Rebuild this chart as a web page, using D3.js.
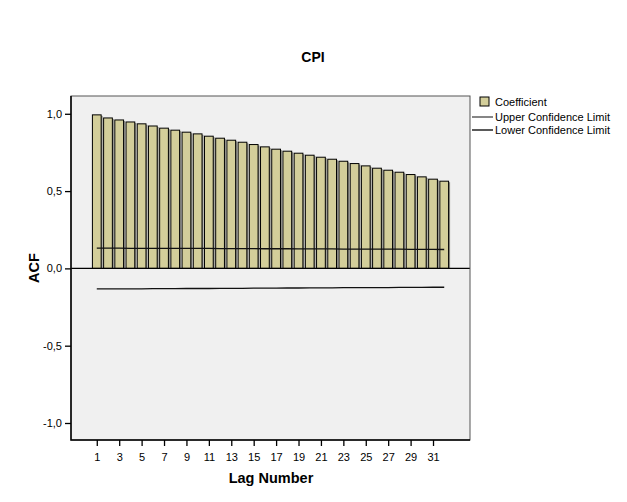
<!DOCTYPE html>
<html>
<head>
<meta charset="utf-8">
<script src="https://cdn.jsdelivr.net/npm/d3@7"></script>
<style>
  body { margin: 0; background: #fff; }
  svg { display: block; font-family: "Liberation Sans", Arial, sans-serif; }
</style>
</head>
<body>
<svg id="chart" width="627" height="502"></svg>
<script>
// ACF values for CPI, lags 1..32
var lags = d3.range(1, 33);
var coef = [0.993, 0.973, 0.960, 0.947, 0.935, 0.921, 0.907, 0.894, 0.881, 0.870,
            0.855, 0.842, 0.829, 0.816, 0.801, 0.786, 0.771, 0.758, 0.745, 0.732,
            0.719, 0.706, 0.693, 0.678, 0.663, 0.648, 0.635, 0.622, 0.607, 0.592,
            0.577, 0.564];
var upper = [0.131, 0.131, 0.131, 0.130, 0.130, 0.130, 0.130, 0.129, 0.129, 0.129,
             0.129, 0.128, 0.128, 0.128, 0.128, 0.127, 0.127, 0.127, 0.126, 0.126,
             0.126, 0.126, 0.125, 0.125, 0.125, 0.124, 0.124, 0.124, 0.123, 0.123,
             0.123, 0.122];
var lower = [-0.133, -0.133, -0.132, -0.132, -0.132, -0.131, -0.131, -0.131, -0.130, -0.130,
             -0.130, -0.129, -0.129, -0.129, -0.128, -0.128, -0.128, -0.127, -0.127, -0.126,
             -0.126, -0.126, -0.125, -0.125, -0.125, -0.124, -0.124, -0.123, -0.123, -0.123,
             -0.122, -0.122];
var yTicks = [-1, -0.5, 0, 0.5, 1];
var xTicks = [1, 3, 5, 7, 9, 11, 13, 15, 17, 19, 21, 23, 25, 27, 29, 31];

var svg = d3.select("#chart");
var pLeft = 71, pRight = 470, pTop = 96, pBottom = 440;

var x = d3.scaleLinear().domain([-1.3, 34.3]).range([pLeft, pRight]);
var y = d3.scaleLinear().domain([-1.11, 1.115]).range([pBottom, pTop]);
var step = x(2) - x(1);
var barW = step * 0.78;
var fmt = function(d) { return d3.format(".1f")(d).replace(".", ",").replace("−", "-"); };

// plot background
svg.append("rect")
  .attr("x", pLeft).attr("y", pTop)
  .attr("width", pRight - pLeft).attr("height", pBottom - pTop)
  .attr("fill", "#f0f0f0");

// bars with a little shadow
var bars = svg.append("g");
bars.selectAll(".shadow")
  .data(lags)
  .enter().append("rect")
  .attr("class", "shadow")
  .attr("x", function(d) { return x(d) - barW / 2 + 1.5; })
  .attr("y", function(d, i) { return y(coef[i]) + 1; })
  .attr("width", barW)
  .attr("height", function(d, i) { return y(0) - y(coef[i]) - 1; })
  .attr("fill", "#8c8c84");
bars.selectAll(".bar")
  .data(lags)
  .enter().append("rect")
  .attr("class", "bar")
  .attr("x", function(d) { return x(d) - barW / 2; })
  .attr("y", function(d, i) { return y(coef[i]); })
  .attr("width", barW)
  .attr("height", function(d, i) { return y(0) - y(coef[i]); })
  .attr("fill", "#d3ce9a")
  .attr("stroke", "#000")
  .attr("stroke-width", 1);

// zero line
svg.append("line")
  .attr("x1", pLeft).attr("x2", pRight)
  .attr("y1", y(0)).attr("y2", y(0))
  .attr("stroke", "#000").attr("stroke-width", 1.3);

// confidence limits
var line = d3.line()
  .x(function(d) { return x(d[0]); })
  .y(function(d) { return y(d[1]); });
svg.append("path")
  .attr("d", line(lags.map(function(d, i) { return [d, upper[i]]; })))
  .attr("fill", "none").attr("stroke", "#111").attr("stroke-width", 1.3);
svg.append("path")
  .attr("d", line(lags.map(function(d, i) { return [d, lower[i]]; })))
  .attr("fill", "none").attr("stroke", "#111").attr("stroke-width", 1.3);

// frame
svg.append("rect")
  .attr("x", pLeft).attr("y", pTop)
  .attr("width", pRight - pLeft).attr("height", pBottom - pTop)
  .attr("fill", "none").attr("stroke", "#555").attr("stroke-width", 1);
svg.append("path")
  .attr("d", "M" + pLeft + "," + pTop + "V" + pBottom + "H" + pRight)
  .attr("fill", "none").attr("stroke", "#000").attr("stroke-width", 1.5);

// axes
var yAxis = svg.append("g")
  .attr("transform", "translate(" + pLeft + ",0)")
  .call(d3.axisLeft(y).tickValues(yTicks).tickSize(6).tickPadding(3).tickFormat(fmt));
var xAxis = svg.append("g")
  .attr("transform", "translate(0," + pBottom + ")")
  .call(d3.axisBottom(x).tickValues(xTicks).tickSize(6).tickPadding(7));
[yAxis, xAxis].forEach(function(a) {
  a.select(".domain").remove();
  a.selectAll("line").attr("stroke", "#000").attr("stroke-width", 1.3);
  a.selectAll("text").attr("fill", "#000").style("font-size", "11px")
    .style("font-family", "'Liberation Sans', Arial, sans-serif");
});

// titles
svg.append("text")
  .attr("x", 313).attr("y", 62)
  .attr("text-anchor", "middle")
  .style("font-size", "14px").style("font-weight", "bold")
  .text("CPI");
svg.append("text")
  .attr("x", 271).attr("y", 483)
  .attr("text-anchor", "middle")
  .style("font-size", "14.5px").style("font-weight", "bold")
  .text("Lag Number");
svg.append("text")
  .attr("transform", "translate(39,268) rotate(-90)")
  .attr("text-anchor", "middle")
  .style("font-size", "14.5px").style("font-weight", "bold")
  .text("ACF");

// legend
var legend = svg.append("g").style("font-size", "11px");
legend.append("rect")
  .attr("x", 480).attr("y", 97).attr("width", 9).attr("height", 9)
  .attr("fill", "#d3ce9a").attr("stroke", "#000");
legend.append("text").attr("x", 495).attr("y", 106).text("Coefficient");
legend.append("line")
  .attr("x1", 472).attr("x2", 493).attr("y1", 117).attr("y2", 117)
  .attr("stroke", "#444").attr("stroke-width", 1.3);
legend.append("text").attr("x", 495).attr("y", 121).text("Upper Confidence Limit");
legend.append("line")
  .attr("x1", 472).attr("x2", 493).attr("y1", 130).attr("y2", 130)
  .attr("stroke", "#000").attr("stroke-width", 1.3);
legend.append("text").attr("x", 495).attr("y", 134).text("Lower Confidence Limit");
</script>
</body>
</html>
